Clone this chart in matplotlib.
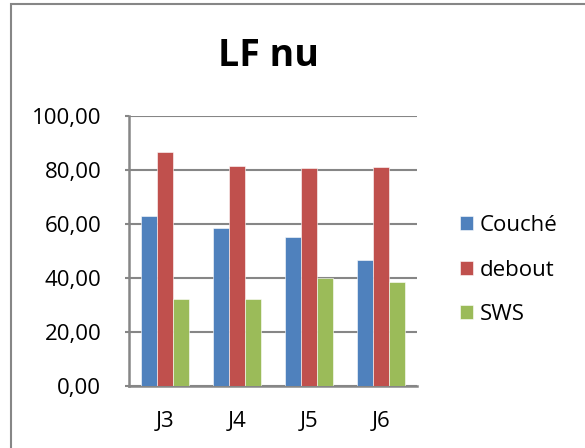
import matplotlib.pyplot as plt
import numpy as np
from matplotlib.patches import Rectangle

plt.rcParams['font.family'] = ['Open Sans', 'DejaVu Sans']

# data
categories = ["J3", "J4", "J5", "J6"]
couche = [63.1, 58.4, 55.1, 46.8]
debout = [86.7, 81.5, 80.6, 81.2]
sws = [32.2, 32.2, 40.1, 38.5]
series_names = ["Couché", "debout", "SWS"]
colors = ["#4F81BD", "#C0504D", "#9BBB59"]
yticks = [0, 20, 40, 60, 80, 100]

grey = "#868686"

fig = plt.figure(figsize=(5.85, 4.48), dpi=100)
W, H = 585, 448

# outer chart frame
fig.patches.append(Rectangle((11 / W, -0.1), 1.2, 1.1 - 4 / H,
                             transform=fig.transFigure, fill=False,
                             edgecolor=grey, linewidth=1.5))

ax = fig.add_axes([129 / W, (H - 386) / H, 288 / W, 270 / H])

x = np.arange(len(categories))
w = 1 / 4.5  # 150% gap width
for i, (vals, name, c) in enumerate(zip([couche, debout, sws], series_names, colors)):
    ax.bar(x + (i - 1) * w, vals, width=w, color=c, label=name,
           edgecolor="white", linewidth=0.4, zorder=3)

ax.set_xlim(-0.5, len(categories) - 0.5)
ax.set_ylim(0, 100)
ax.set_yticks(yticks)
ax.set_yticklabels([f"{v:.2f}".replace(".", ",") for v in yticks], fontsize=16)
ax.set_xticks(x)
ax.set_xticklabels(categories, fontsize=16)
ax.tick_params(axis="x", length=0, pad=18)
ax.tick_params(axis="y", length=3, width=1.5, color=grey, pad=17)

ax.grid(axis="y", color=grey, linewidth=1.5, zorder=0)
for side in ["top", "right"]:
    ax.spines[side].set_visible(False)
for side in ["left", "bottom"]:
    ax.spines[side].set_color(grey)
    ax.spines[side].set_linewidth(1.8)

fig.text(268 / W, (H - 56) / H, "LF nu", ha="center", va="center",
         fontsize=27, fontweight="bold")

fig.legend(loc="center left", bbox_to_anchor=(460 / W, (H - 270) / H),
           frameon=False, fontsize=16, handlelength=0.6, handleheight=0.6,
           handletextpad=0.3, labelspacing=1.05, borderpad=0, borderaxespad=0)

fig.savefig("out.png", dpi=100)
